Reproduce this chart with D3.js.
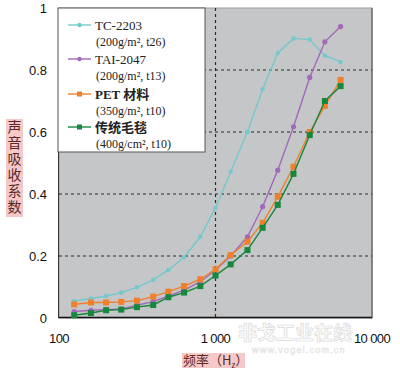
<!DOCTYPE html>
<html><head><meta charset="utf-8">
<script src="https://cdn.jsdelivr.net/npm/d3@7"></script>
<style>body{margin:0;background:#fff}svg{display:block}</style>
</head><body>
<svg id="c" width="400" height="378"></svg>
<script>
const freqs = [125,160,200,250,315,400,500,630,800,1000,1250,1600,2000,2500,3150,4000,5000,6300];
const tc2203 = [0.055,0.063,0.071,0.082,0.099,0.123,0.155,0.196,0.262,0.355,0.472,0.600,0.738,0.855,0.902,0.898,0.846,0.826];
const tai2047 = [0.021,0.025,0.027,0.029,0.041,0.053,0.071,0.090,0.117,0.155,0.200,0.262,0.359,0.477,0.617,0.776,0.891,0.940];
const pet = [0.044,0.050,0.050,0.052,0.056,0.069,0.085,0.103,0.125,0.157,0.203,0.246,0.307,0.391,0.488,0.600,0.684,0.768];
const blanket = [0.009,0.016,0.025,0.027,0.035,0.042,0.067,0.082,0.103,0.137,0.173,0.219,0.291,0.365,0.465,0.590,0.700,0.748];
const seriesNames = ["TC-2203","TAI-2047","PET 材料","传统毛毯"];
const seriesSub = ["(200g/m², t26)","(200g/m², t13)","(350g/m², t10)","(400g/cm², t10)"];
const xTicks = [100,1000,10000];
const xTickLabels = ["100","1 000","10 000"];
const yTicks = [0,0.2,0.4,0.6,0.8,1];
const yTickLabels = ["0","0.2","0.4","0.6","0.8","1"];
const gridY = [0.2,0.4,0.6,0.8];
const gridX = [1000];

const colors = ["#74c9cd","#a468bb","#f0802c","#17873c"];
const markers = ["circle","circle","square","square"];
const values = [tc2203, tai2047, pet, blanket];

const svg = d3.select("#c");
const L=59,R=372,T=8,B=318;
const x = d3.scaleLog().domain([100,10000]).range([L,R]);
const y = d3.scaleLinear().domain([0,1]).range([B,T]);

svg.append("rect").attr("x",L).attr("y",T).attr("width",R-L).attr("height",B-T)
  .attr("fill","#c4c6c7").attr("stroke","#9a9c9d").attr("stroke-width",1);
svg.append("line").attr("x1",R).attr("x2",R).attr("y1",T).attr("y2",B).attr("stroke","#6f7172").attr("stroke-width",1.5);

// grid
svg.selectAll(".gy").data(gridY).enter().append("line")
  .attr("x1",L).attr("x2",R).attr("y1",d=>y(d)).attr("y2",d=>y(d))
  .attr("stroke","#2b2b2b").attr("stroke-width",1.2).attr("stroke-dasharray","3,3");
svg.selectAll(".gx").data(gridX).enter().append("line")
  .attr("x1",d=>x(d)).attr("x2",d=>x(d)).attr("y1",T).attr("y2",B)
  .attr("stroke","#2b2b2b").attr("stroke-width",1.2).attr("stroke-dasharray","3,3");

// axes
svg.append("line").attr("x1",L).attr("x2",R).attr("y1",B-0.5).attr("y2",B-0.5).attr("stroke","#111").attr("stroke-width",1.5);
svg.append("line").attr("x1",L-0.5).attr("x2",L-0.5).attr("y1",T).attr("y2",B).attr("stroke","#333").attr("stroke-width",1);

// series
const line = d3.line().x(d=>x(d[0])).y(d=>y(d[1]));
values.forEach((vals,i)=>{
  const pts = freqs.map((f,j)=>[f,vals[j]]);
  svg.append("path").datum(pts).attr("d",line).attr("fill","none")
    .attr("stroke",colors[i]).attr("stroke-width",1.4);
  if(markers[i]==="circle"){
    svg.selectAll(null).data(pts).enter().append("circle")
      .attr("cx",d=>x(d[0])).attr("cy",d=>y(d[1])).attr("r",i===0?2.3:2.6).attr("fill",colors[i]);
  } else {
    svg.selectAll(null).data(pts).enter().append("rect")
      .attr("x",d=>x(d[0])-3).attr("y",d=>y(d[1])-3).attr("width",6).attr("height",6).attr("fill",colors[i]);
  }
});

// legend
const lg = svg.append("g");
lg.append("rect").attr("x",58).attr("y",T).attr("width",147).attr("height",144)
  .attr("fill","#fff").attr("stroke","#555").attr("stroke-width",1);
const rowY = [25,59,94,127];
seriesNames.forEach((n,i)=>{
  const yy=rowY[i];
  lg.append("line").attr("x1",68).attr("x2",91).attr("y1",yy).attr("y2",yy).attr("stroke",colors[i]).attr("stroke-width",1.4);
  if(markers[i]==="circle") lg.append("circle").attr("cx",79.5).attr("cy",yy).attr("r",2.2).attr("fill",colors[i]);
  else lg.append("rect").attr("x",77).attr("y",yy-2.5).attr("width",5).attr("height",5).attr("fill",colors[i]);
  lg.append("text").attr("x",95).attr("y",yy+4.5).text(n)
    .attr("font-family","'Liberation Serif','Noto Sans CJK SC',serif").attr("font-size",13).attr("font-weight",i<2?"normal":"bold").attr("fill","#222");
  lg.append("text").attr("x",96).attr("y",yy+21).text(seriesSub[i])
    .attr("font-family","'Liberation Serif','Noto Sans CJK SC',serif").attr("font-size",12).attr("fill","#222");
});

// watermark (drawn beneath the labels, kept clear of them)
const wm = svg.append("g").attr("opacity",0.85);
wm.append("text").attr("x",295).attr("y",340).attr("text-anchor","middle").text("非戈工业在线")
  .attr("font-family","'Noto Sans CJK SC',sans-serif").attr("font-size",19).attr("font-weight","bold")
  .attr("fill","#fbfbfb").attr("stroke","#d6d6d6").attr("stroke-width",0.7);
wm.append("text").attr("x",252).attr("y",353).attr("text-anchor","start").text("www.vogel.com.cn")
  .attr("font-family","'Liberation Sans',sans-serif").attr("font-size",9).attr("letter-spacing",1.2)
  .attr("fill","#f4f4f4").attr("stroke","#dadada").attr("stroke-width",0.4);

// tick labels
svg.selectAll(".yt").data(yTicks).enter().append("text")
  .attr("x",47).attr("y",d=>y(d)+5).attr("text-anchor","end").text((d,i)=>yTickLabels[i])
  .attr("font-family","'Liberation Sans',Arial,sans-serif").attr("font-size",13).attr("fill","#111");
svg.selectAll(".xt").data(xTicks).enter().append("text")
  .attr("x",d=>x(d)).attr("y",343).attr("text-anchor","middle").text((d,i)=>xTickLabels[i])
  .attr("font-family","'Liberation Sans',Arial,sans-serif").attr("font-size",13).attr("letter-spacing",-0.6).attr("fill","#111");

// axis titles
svg.append("rect").attr("x",182).attr("y",353).attr("width",63).attr("height",15).attr("fill","#f6c9c9");
const xt = svg.append("text").attr("x",183).attr("y",365)
  .attr("font-family","'Noto Sans CJK SC',serif").attr("font-size",13).attr("fill","#5a2626");
xt.append("tspan").text("频率（H");
xt.append("tspan").text("z").attr("font-size",8).attr("dy",3);
xt.append("tspan").text("）").attr("dy",-3);

svg.append("rect").attr("x",6).attr("y",119).attr("width",17).attr("height",98).attr("fill","#f6c9c9");
svg.append("text").attr("x",14.5).attr("y",120).text("声音吸收系数")
  .attr("writing-mode","vertical-rl").attr("letter-spacing",2)
  .attr("font-family","'Noto Sans CJK SC',serif").attr("font-size",14).attr("fill","#5a2626");
</script>
</body></html>
